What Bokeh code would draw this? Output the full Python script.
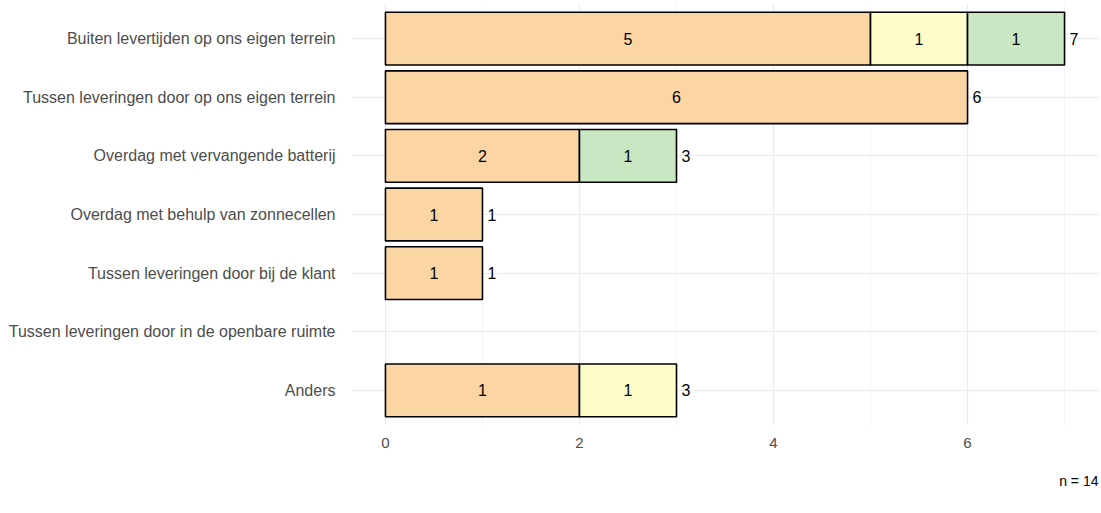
from bokeh.plotting import figure
from bokeh.models import ColumnDataSource, Range1d, FixedTicker, Title
from bokeh.embed import file_html
from bokeh.resources import INLINE
from bokeh.core.properties import value

# Answer categories (top to bottom) and counts per response group
categories = [
    "Buiten levertijden op ons eigen terrein",
    "Tussen leveringen door op ons eigen terrein",
    "Overdag met vervangende batterij",
    "Overdag met behulp van zonnecellen",
    "Tussen leveringen door bij de klant",
    "Tussen leveringen door in de openbare ruimte",
    "Anders",
]
orange_vals = [5, 6, 2, 1, 1, 0, 2]
yellow_vals = [1, 0, 0, 0, 0, 0, 1]
green_vals = [1, 0, 1, 0, 0, 0, 0]
orange_text = ["5", "6", "2", "1", "1", "", "1"]
totals = [7, 6, 3, 1, 1, 0, 3]
x_ticks = [0, 2, 4, 6]
n_text = "n = 14"

FONT = "Liberation Sans"
colors = ["#FCD5A5", "#FEFDCA", "#CAE7C3"]

n = len(categories)
ypos = [n - i for i in range(n)]  # first category on top

p = figure(width=1101, height=513, output_backend="svg", toolbar_location=None,
           x_range=Range1d(-0.35, 7.35), y_range=Range1d(0.4, n + 0.6),
           min_border_left=351, min_border_right=3, min_border_top=3,
           min_border_bottom=88)
p.outline_line_color = None
p.background_fill_color = "white"

# grid
p.xgrid.ticker = FixedTicker(ticks=x_ticks, minor_ticks=[1, 3, 5, 7])
p.xgrid.grid_line_color = "#EBEBEB"
p.xgrid.grid_line_width = 1.2
p.xgrid.minor_grid_line_color = "#F2F2F2"
p.xgrid.minor_grid_line_width = 0.8
p.ygrid.ticker = FixedTicker(ticks=ypos)
p.ygrid.grid_line_color = "#EBEBEB"
p.ygrid.grid_line_width = 1.2

# axes
p.xaxis.ticker = FixedTicker(ticks=x_ticks)
p.yaxis.ticker = FixedTicker(ticks=ypos)
p.yaxis.major_label_overrides = {y: c for y, c in zip(ypos, categories)}
for ax in (p.xaxis[0], p.yaxis[0]):
    ax.axis_line_color = None
    ax.major_tick_line_color = None
    ax.minor_tick_line_color = None
    ax.major_label_text_font = FONT
    ax.major_label_text_color = "#4D4D4D"
p.yaxis.major_label_text_font_size = "16px"
p.xaxis.major_label_text_font_size = "15px"
p.yaxis.major_label_standoff = 10
p.xaxis.major_label_standoff = 6

# stacked segments
groups = [orange_vals, yellow_vals, green_vals]
left = [0] * n
seg_texts = [orange_text,
             [str(v) if v else "" for v in yellow_vals],
             [str(v) if v else "" for v in green_vals]]
for vals, col, txt in zip(groups, colors, seg_texts):
    rows = [i for i in range(n) if vals[i] > 0]
    src = ColumnDataSource(dict(
        y=[ypos[i] for i in rows],
        left=[left[i] for i in rows],
        right=[left[i] + vals[i] for i in rows],
        mid=[left[i] + vals[i] / 2 for i in rows],
        label=[txt[i] for i in rows],
    ))
    p.hbar(y="y", left="left", right="right", height=0.9, source=src,
           fill_color=col, line_color="black", line_width=1.6)
    p.text(x="mid", y="y", text="label", source=src, text_align="center",
           text_baseline="middle", text_font=value(FONT),
           text_font_size="16px", text_color="black")
    for i in range(n):
        left[i] += vals[i]

# totals at the end of each bar
trows = [i for i in range(n) if totals[i] > 0]
tsrc = ColumnDataSource(dict(x=[totals[i] for i in trows],
                             y=[ypos[i] for i in trows],
                             label=[str(totals[i]) for i in trows]))
p.text(x="x", y="y", text="label", source=tsrc, x_offset=5,
       text_align="left", text_baseline="middle", text_font=value(FONT),
       text_font_size="16px", text_color="black")

# sample size caption below the axis, right aligned
cap = Title(text=n_text, align="right", text_font=FONT, text_font_size="14px",
            text_font_style="normal", text_color="black", standoff=41)
p.add_layout(cap, "below")

open("out.html", "w").write(file_html(p, INLINE))
